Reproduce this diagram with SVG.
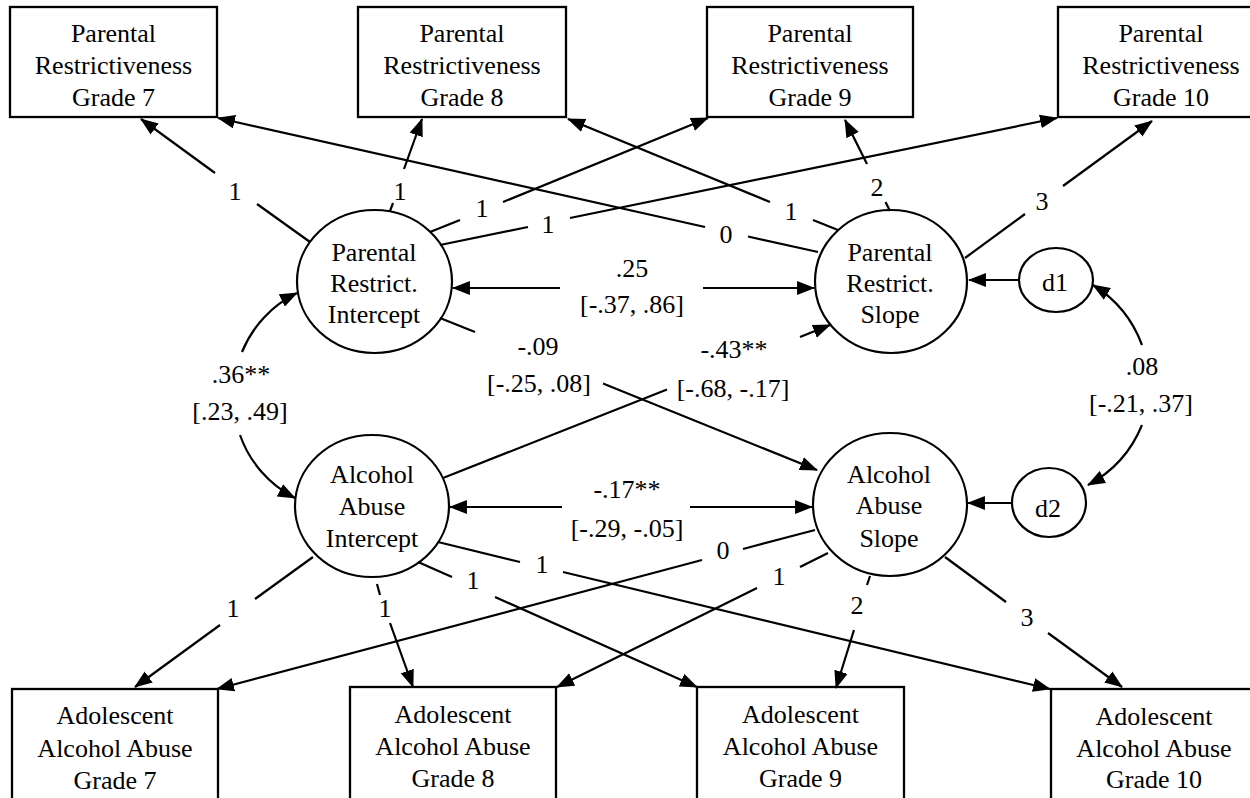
<svg xmlns="http://www.w3.org/2000/svg" width="1250" height="798" viewBox="0 0 1250 798">
<defs>
<style>
.t{font-family:'Liberation Serif','Times New Roman','DejaVu Serif',serif;font-size:26px;text-anchor:middle;fill:#000}
.box{fill:#fff;stroke:#000;stroke-width:2.3}
.lat{fill:#fff;stroke:#000;stroke-width:2.2}
.c line,.c path{stroke:#000;stroke-width:2.2;fill:none}
.a{marker-end:url(#ah)}
</style>
<marker id="ah" markerUnits="userSpaceOnUse" markerWidth="18" markerHeight="14" viewBox="0 0 17 13" refX="16" refY="6.5" orient="auto">
<path d="M0,0 L17,6.5 L0,13 z" fill="#000"/>
</marker>
</defs>
<rect width="1250" height="798" fill="#fff"/>

<g id="pr7"><rect class="box" x="10" y="7" width="207" height="110"/>
<text class="t" x="113.5" y="42">Parental</text><text class="t" x="113.5" y="74">Restrictiveness</text><text class="t" x="113.5" y="106">Grade 7</text></g>
<g id="pr8"><rect class="box" x="358" y="7" width="208" height="110"/>
<text class="t" x="462" y="42">Parental</text><text class="t" x="462" y="74">Restrictiveness</text><text class="t" x="462" y="106">Grade 8</text></g>
<g id="pr9"><rect class="box" x="707" y="7" width="206" height="110"/>
<text class="t" x="810" y="42">Parental</text><text class="t" x="810" y="74">Restrictiveness</text><text class="t" x="810" y="106">Grade 9</text></g>
<g id="pr10"><rect class="box" x="1058" y="7" width="207" height="110"/>
<text class="t" x="1161" y="42">Parental</text><text class="t" x="1161" y="74">Restrictiveness</text><text class="t" x="1161" y="106">Grade 10</text></g>

<g id="aa7"><rect class="box" x="12" y="689" width="206" height="112"/>
<text class="t" x="115" y="724">Adolescent</text><text class="t" x="115" y="757">Alcohol Abuse</text><text class="t" x="115" y="789">Grade 7</text></g>
<g id="aa8"><rect class="box" x="350" y="687" width="206" height="114"/>
<text class="t" x="453" y="723">Adolescent</text><text class="t" x="453" y="755">Alcohol Abuse</text><text class="t" x="453" y="787">Grade 8</text></g>
<g id="aa9"><rect class="box" x="697" y="687" width="207" height="114"/>
<text class="t" x="800.5" y="723">Adolescent</text><text class="t" x="800.5" y="755">Alcohol Abuse</text><text class="t" x="800.5" y="787">Grade 9</text></g>
<g id="aa10"><rect class="box" x="1051" y="689" width="206" height="112"/>
<text class="t" x="1154" y="725">Adolescent</text><text class="t" x="1154" y="757">Alcohol Abuse</text><text class="t" x="1154" y="788">Grade 10</text></g>

<g id="pri"><ellipse class="lat" cx="374.5" cy="281.5" rx="77.5" ry="71.5"/>
<text class="t" x="374" y="261">Parental</text><text class="t" x="374" y="292">Restrict.</text><text class="t" x="374" y="323">Intercept</text></g>
<g id="prs"><ellipse class="lat" cx="891" cy="281.5" rx="76" ry="71.5"/>
<text class="t" x="890" y="261">Parental</text><text class="t" x="890" y="292">Restrict.</text><text class="t" x="890" y="323">Slope</text></g>
<g id="aai"><ellipse class="lat" cx="372" cy="506" rx="77" ry="71"/>
<text class="t" x="372" y="483">Alcohol</text><text class="t" x="372" y="515">Abuse</text><text class="t" x="372" y="547">Intercept</text></g>
<g id="aas"><ellipse class="lat" cx="890" cy="504.5" rx="77" ry="71.5"/>
<text class="t" x="889" y="483">Alcohol</text><text class="t" x="889" y="514">Abuse</text><text class="t" x="889" y="547">Slope</text></g>
<g id="d1"><ellipse class="lat" cx="1056" cy="280" rx="37" ry="32"/>
<text class="t" x="1055" y="291">d1</text></g>
<g id="d2"><ellipse class="lat" cx="1049" cy="502.5" rx="37" ry="34.5"/>
<text class="t" x="1048" y="517">d2</text></g>

<g id="connectors" class="c">
<line x1="310" y1="242" x2="257" y2="204"/><line class="a" x1="215" y1="173" x2="141" y2="119"/>
<line x1="390" y1="211" x2="393" y2="203"/><line class="a" x1="404" y1="169" x2="422" y2="119"/>
<line x1="430" y1="232" x2="460" y2="220"/><line class="a" x1="503" y1="202" x2="708" y2="118"/>
<line x1="440" y1="245" x2="528" y2="227"/><line class="a" x1="570" y1="218" x2="1057" y2="118"/>
<line x1="818" y1="252" x2="748" y2="236.5"/><line class="a" x1="705" y1="227" x2="218" y2="118"/>
<line x1="838" y1="230" x2="813" y2="220"/><line class="a" x1="770" y1="202" x2="568" y2="119"/>
<line x1="890" y1="211" x2="885.5" y2="202"/><line class="a" x1="867" y1="164" x2="845" y2="120"/>
<line x1="965" y1="258" x2="1025" y2="214"/><line class="a" x1="1063" y1="186" x2="1152" y2="121"/>

<line class="a" x1="560" y1="288" x2="453" y2="288"/><line class="a" x1="703" y1="288" x2="814" y2="288"/>
<line x1="440" y1="318" x2="475" y2="332"/><line class="a" x1="603" y1="383.5" x2="817" y2="470"/>
<line x1="443" y1="478" x2="667" y2="389.5"/><line class="a" x1="800" y1="337" x2="830" y2="325"/>
<path class="a" d="M242,352 A113,113 0 0 1 297,293"/><path class="a" d="M240,435 A113,113 0 0 0 295,498"/>
<path class="a" d="M1142,345 A119,119 0 0 0 1093,285"/><path class="a" d="M1142,425 A119,119 0 0 1 1088,485"/>
<line class="a" x1="1019" y1="280" x2="969" y2="280"/>
<line class="a" x1="1012" y1="503" x2="968" y2="503"/>
<line class="a" x1="562" y1="507" x2="450" y2="507"/><line class="a" x1="690" y1="507" x2="812" y2="507"/>

<line x1="313" y1="557" x2="255" y2="599"/><line class="a" x1="220" y1="625" x2="135" y2="687"/>
<line x1="377" y1="584" x2="380" y2="595"/><line class="a" x1="390" y1="623" x2="413" y2="687"/>
<line x1="418" y1="562" x2="452" y2="577"/><line class="a" x1="495" y1="597" x2="697" y2="687"/>
<line x1="438" y1="542" x2="520" y2="562"/><line class="a" x1="563" y1="572" x2="1050" y2="689"/>
<line x1="815" y1="530" x2="743" y2="549"/><line class="a" x1="702" y1="560" x2="217" y2="689"/>
<line x1="828" y1="553" x2="800" y2="567"/><line class="a" x1="757" y1="588" x2="557" y2="687"/>
<line x1="870" y1="576" x2="867" y2="585"/><line class="a" x1="854" y1="630" x2="836" y2="688"/>
<line x1="945" y1="557" x2="1006" y2="602"/><line class="a" x1="1048" y1="633" x2="1122" y2="687"/>
</g>

<g id="labels">
<text class="t" x="235" y="200">1</text>
<text class="t" x="400" y="200">1</text>
<text class="t" x="482" y="217">1</text>
<text class="t" x="548" y="233">1</text>
<text class="t" x="726" y="243">0</text>
<text class="t" x="791" y="220">1</text>
<text class="t" x="877" y="196">2</text>
<text class="t" x="1042" y="210">3</text>
<text class="t" x="632" y="277">.25</text>
<text class="t" x="632" y="313">[-.37, .86]</text>
<text class="t" x="538" y="355">-.09</text>
<text class="t" x="539" y="392">[-.25, .08]</text>
<text class="t" x="734" y="358">-.43**</text>
<text class="t" x="733" y="397">[-.68, -.17]</text>
<text class="t" x="241" y="383">.36**</text>
<text class="t" x="240" y="420">[.23, .49]</text>
<text class="t" x="627" y="498">-.17**</text>
<text class="t" x="627" y="537">[-.29, -.05]</text>
<text class="t" x="1142" y="375">.08</text>
<text class="t" x="1141" y="412">[-.21, .37]</text>
<text class="t" x="233" y="617">1</text>
<text class="t" x="385" y="617">1</text>
<text class="t" x="473" y="589">1</text>
<text class="t" x="542" y="573">1</text>
<text class="t" x="723" y="559">0</text>
<text class="t" x="779" y="585">1</text>
<text class="t" x="857" y="614">2</text>
<text class="t" x="1027" y="626">3</text>
</g>
</svg>
